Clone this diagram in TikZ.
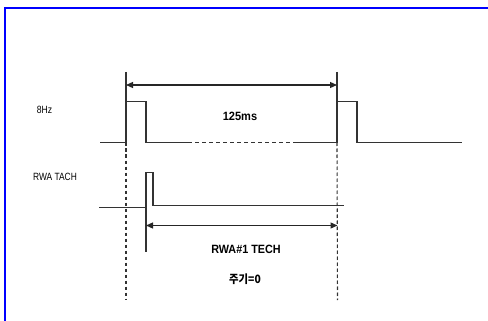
\documentclass[tikz,border=0pt]{standalone}
\usepackage{fontspec}
\usepackage{graphicx}
\setmainfont{Liberation Sans}
\newfontfamily\krfont{Noto Sans CJK KR}
\usetikzlibrary{arrows.meta}
\tikzset{
  wave/.style={draw=black!80, line width=1.3pt},
  guide/.style={draw=black!80, line width=1.1pt, dash pattern=on 3.5pt off 2.5pt},
  dim/.style={draw=black!85, line width=1.2pt, {Triangle[length=7pt,width=6pt]}-{Triangle[length=7pt,width=6pt]}},
  tick/.style={draw=black!80, line width=1.1pt},
  lbl/.style={inner sep=0pt, text=black, font=\fontsize{10.5}{12}\selectfont},
  blbl/.style={inner sep=0pt, text=black, font=\fontsize{12}{14}\selectfont\bfseries}
}
\begin{document}
\begin{tikzpicture}[x=1pt,y=-1pt]
\useasboundingbox (0,0) rectangle (488,321);
\fill[white] (0,0) rectangle (488,321);
% frame
\draw[blue, line width=2pt] (5,321) -- (5,8) -- (488,8);

% 8Hz waveform coordinates
\coordinate (a0) at (100,142.5);
\coordinate (a1) at (126,142.5);
\coordinate (a2) at (126,101.5);
\coordinate (a3) at (146,101.5);
\coordinate (a4) at (146,142.5);
\coordinate (a5) at (188,142.5);
\coordinate (a6) at (295,142.5);
\coordinate (a7) at (337,142.5);
\coordinate (a8) at (337,101.5);
\coordinate (a9) at (357,101.5);
\coordinate (a10) at (357,142.5);
\coordinate (a11) at (462,142.5);

\draw[wave] (a0) -- (a1) -- (a2) -- (a3) -- (a4) -- (a5);
\draw[wave, dash pattern=on 4pt off 3pt] (a5) -- (a6);
\draw[wave] (a6) -- (a7) -- (a8) -- (a9) -- (a10) -- (a11);

% ticks for the 125ms dimension
\coordinate (t1) at (126,72);
\coordinate (t2) at (337,72);
\draw[tick] (t1) -- (a2);
\draw[tick] (t2) -- (a8);
\coordinate (d1) at (126,85);
\coordinate (d2) at (337,85);
\draw[dim] (d1) -- (d2);

% RWA TACH waveform
\coordinate (b0) at (99,207.3);
\coordinate (b1) at (146,207.3);
\coordinate (b2) at (146,172.5);
\coordinate (b3) at (153,172.5);
\coordinate (b4) at (153,205.7);
\coordinate (b5) at (344,205.7);
\coordinate (b6) at (146,252);
\draw[wave] (b0) -- (b1) -- (b2) -- (b3) -- (b4) -- (b5);
\draw[tick] (b1) -- (b6);

% dashed guides
\coordinate (g1) at (126,300);
\coordinate (g2) at (337.5,300);
\draw[guide] (a1) -- (g1);
\draw[guide] (a7) -- (g2);

% RWA dimension
\coordinate (e1) at (146,225.5);
\coordinate (e2) at (337.5,225.5);
\draw[dim] (e1) -- (e2);

% labels
\node[lbl] (l8hz) at (44.5,110) {\scalebox{0.82}[1]{8Hz}};
\node[lbl] (lrwa) at (55,177) {\scalebox{0.8}[1]{RWA TACH}};
\node[blbl] (l125) at (240,116) {\scalebox{0.92}[1]{125ms}};
\node[blbl] (ltech) at (246,249) {\scalebox{0.9}[1]{RWA\#1 TECH}};
\node[inner sep=0pt, text=black, font=\krfont\fontsize{11.5}{14}\selectfont\bfseries] (lper) at (245,279) {\scalebox{0.9}[1]{주기=0}};
\end{tikzpicture}
\end{document}
